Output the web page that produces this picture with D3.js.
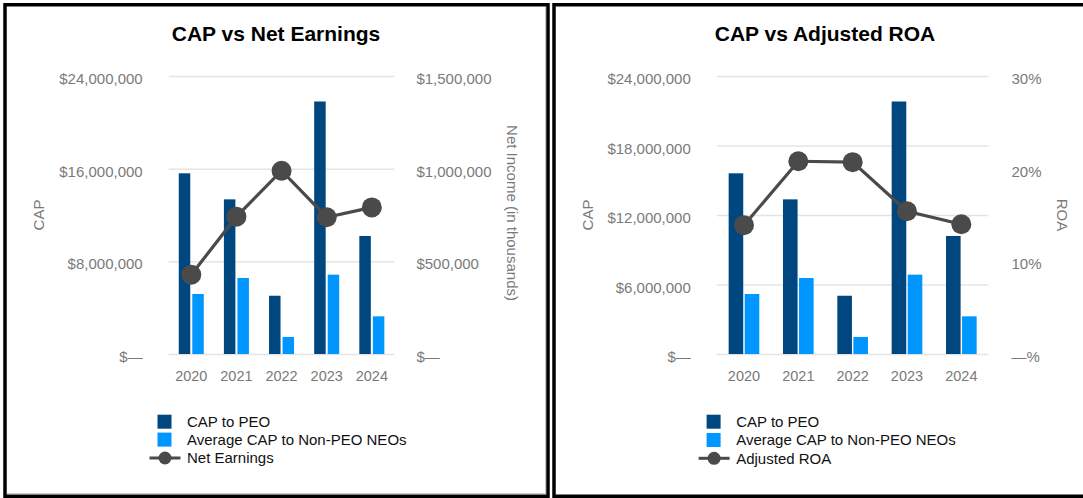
<!DOCTYPE html>
<html>
<head>
<meta charset="utf-8">
<script src="https://cdn.jsdelivr.net/npm/d3@7"></script>
<style>
  html, body { margin: 0; padding: 0; background: #fff; }
  svg { display: block; font-family: "Liberation Sans", Arial, sans-serif; }
</style>
</head>
<body>
<svg id="chart" width="1083" height="498"></svg>
<script>
// ---- Data ----
const years = ["2020", "2021", "2022", "2023", "2024"];
const capToPEO = [15600000, 13350000, 5030000, 21800000, 10190000];
const avgCapNonPEO = [5180000, 6560000, 1470000, 6850000, 3250000];
const netEarnings = [428000, 741000, 989000, 738000, 791000];
const adjustedROA = [13.9, 20.8, 20.7, 15.4, 14.0];

const capTicksA = [0, 8000000, 16000000, 24000000];
const capTicksB = [0, 6000000, 12000000, 18000000, 24000000];
const netTicks = [0, 500000, 1000000, 1500000];
const roaTicks = [0, 10, 20, 30];

const seriesNames = ["CAP to PEO", "Average CAP to Non-PEO NEOs"];
const titles = ["CAP vs Net Earnings", "CAP vs Adjusted ROA"];
const lineNames = ["Net Earnings", "Adjusted ROA"];
const rightTitles = ["Net Income (in thousands)", "ROA"];

const DARK = "#00477f", LIGHT = "#0096ff", LINE = "#4a4a4a", GRID = "#e4e4e4", TICK = "#7a7a7a";
const FONT = "Liberation Sans, Arial, sans-serif";

const svg = d3.select("#chart");
const fmtMoney = v => v === 0 ? "$\u2014" : "$" + d3.format(",")(v);
const fmtPct = v => v === 0 ? "\u2014%" : v + "%";

// panel borders
svg.append("rect").attr("x", 5).attr("y", 4.75).attr("width", 543).attr("height", 491.5)
  .attr("fill", "none").attr("stroke", "#000").attr("stroke-width", 3.5);
svg.append("rect").attr("x", 554).attr("y", 4.75).attr("width", 540).attr("height", 491.5)
  .attr("fill", "none").attr("stroke", "#000").attr("stroke-width", 3.5);
// subtle inner shadow on left panel
svg.append("path").attr("d", "M545.5,7 V493.5 H7").attr("fill", "none").attr("stroke", "#c8c8c8").attr("stroke-width", 1);

function drawPanel(cfg) {
  const g = svg.append("g");
  const y = d3.scaleLinear().domain([0, 24000000]).range([354, 76]);
  const y2 = d3.scaleLinear().domain(cfg.y2Domain).range([354, 76]);
  const x0 = d3.scaleBand().domain(years).range([cfg.x0, cfg.x1])
    .paddingInner(cfg.padIn).paddingOuter(cfg.padIn / 2);
  const x1 = d3.scaleBand().domain(seriesNames).range([0, x0.bandwidth()]).paddingInner(cfg.barGap);

  // left axis with gridlines
  const ya = g.append("g").attr("transform", `translate(${cfg.x0},0)`)
    .call(d3.axisLeft(y).tickValues(cfg.capTicks).tickFormat(fmtMoney)
      .tickSizeInner(-(cfg.x1 - cfg.x0)).tickSizeOuter(0).tickPadding(26));
  ya.select(".domain").remove();
  ya.selectAll(".tick line").attr("stroke", GRID).attr("stroke-width", 1.5);
  ya.selectAll(".tick text").attr("fill", TICK).style("font-size", "15px")
    .style("font-family", FONT).attr("dy", "0.5em");

  // right axis
  const yb = g.append("g").attr("transform", `translate(${cfg.x1},0)`)
    .call(d3.axisRight(y2).tickValues(cfg.y2Ticks).tickFormat(cfg.y2Fmt).tickSize(0).tickPadding(cfg.rPad));
  yb.select(".domain").remove();
  yb.selectAll(".tick text").attr("fill", TICK).style("font-size", "15px")
    .style("font-family", FONT).attr("dy", "0.5em");

  // bottom axis (years)
  const xa = g.append("g").attr("transform", "translate(0,354)")
    .call(d3.axisBottom(x0).tickSize(0).tickPadding(17));
  xa.select(".domain").remove();
  xa.selectAll(".tick text").attr("fill", TICK).style("font-size", "14.5px")
    .style("font-family", FONT);

  // bars
  const rows = years.map((yr, i) => ({ yr, vals: [capToPEO[i], avgCapNonPEO[i]] }));
  const grp = g.append("g").selectAll("g").data(rows).join("g")
    .attr("transform", d => `translate(${x0(d.yr)},0)`);
  grp.selectAll("rect").data(d => d.vals.map((v, k) => ({ k, v }))).join("rect")
    .attr("x", d => x1(seriesNames[d.k]))
    .attr("width", x1.bandwidth())
    .attr("y", d => y(d.v))
    .attr("height", d => y(0) - y(d.v))
    .attr("fill", d => d.k === 0 ? DARK : LIGHT);

  // line + dots
  const pts = years.map((yr, i) => [x0(yr) + x0.bandwidth() / 2, y2(cfg.lineVals[i])]);
  g.append("path").attr("d", d3.line()(pts)).attr("fill", "none")
    .attr("stroke", LINE).attr("stroke-width", 3.2);
  g.append("g").selectAll("circle").data(pts).join("circle")
    .attr("cx", d => d[0]).attr("cy", d => d[1]).attr("r", 10).attr("fill", LINE);

  // title
  g.append("text").attr("x", cfg.titleX).attr("y", 40.5).attr("text-anchor", "middle")
    .style("font-size", "21px").style("font-weight", "bold").attr("fill", "#000").text(cfg.title);

  // axis titles
  g.append("text").attr("transform", `translate(${cfg.capX},215) rotate(-90)`)
    .attr("text-anchor", "middle").attr("dy", "0.35em").attr("fill", TICK)
    .style("font-size", "15px").text("CAP");
  g.append("text").attr("transform", `translate(${cfg.rTitleX},${cfg.rTitleY}) rotate(90)`)
    .attr("text-anchor", "middle").attr("dy", "0.35em").attr("fill", TICK)
    .style("font-size", "15px").text(cfg.rTitle);

  // legend
  const lg = g.append("g");
  const rowsY = cfg.legY;
  seriesNames.forEach((name, k) => {
    lg.append("rect").attr("x", cfg.swX).attr("y", rowsY[k] - 7).attr("width", 14).attr("height", 14)
      .attr("fill", k === 0 ? DARK : LIGHT);
    lg.append("text").attr("x", cfg.legTextX).attr("y", rowsY[k]).attr("dy", "0.35em")
      .style("font-size", "15px").attr("fill", "#111").text(name);
  });
  lg.append("line").attr("x1", cfg.swX - 8).attr("x2", cfg.swX + 23).attr("y1", rowsY[2]).attr("y2", rowsY[2])
    .attr("stroke", LINE).attr("stroke-width", 3);
  lg.append("circle").attr("cx", cfg.swX + 7.5).attr("cy", rowsY[2]).attr("r", 6.5).attr("fill", LINE);
  lg.append("text").attr("x", cfg.legTextX).attr("y", rowsY[2]).attr("dy", "0.35em")
    .style("font-size", "15px").attr("fill", "#111").text(cfg.lineName);
}

drawPanel({
  x0: 168.7, x1: 394.4, padIn: 0.446, barGap: 0.15,
  capTicks: capTicksA, y2Domain: [0, 1500000], y2Ticks: netTicks, y2Fmt: fmtMoney, rPad: 22,
  lineVals: netEarnings, title: titles[0], titleX: 276,
  capX: 39, rTitle: rightTitles[0], rTitleX: 512.5, rTitleY: 213,
  swX: 157.5, legTextX: 187, legY: [421.7, 439.6, 458], lineName: lineNames[0]
});
drawPanel({
  x0: 716.8, x1: 988.5, padIn: 0.436, barGap: 0.09,
  capTicks: capTicksB, y2Domain: [0, 30], y2Ticks: roaTicks, y2Fmt: fmtPct, rPad: 23,
  lineVals: adjustedROA, title: titles[1], titleX: 825,
  capX: 587.5, rTitle: rightTitles[1], rTitleX: 1062.4, rTitleY: 215,
  swX: 706.6, legTextX: 736.2, legY: [421.7, 440, 458.3], lineName: lineNames[1]
});
</script>
</body>
</html>
